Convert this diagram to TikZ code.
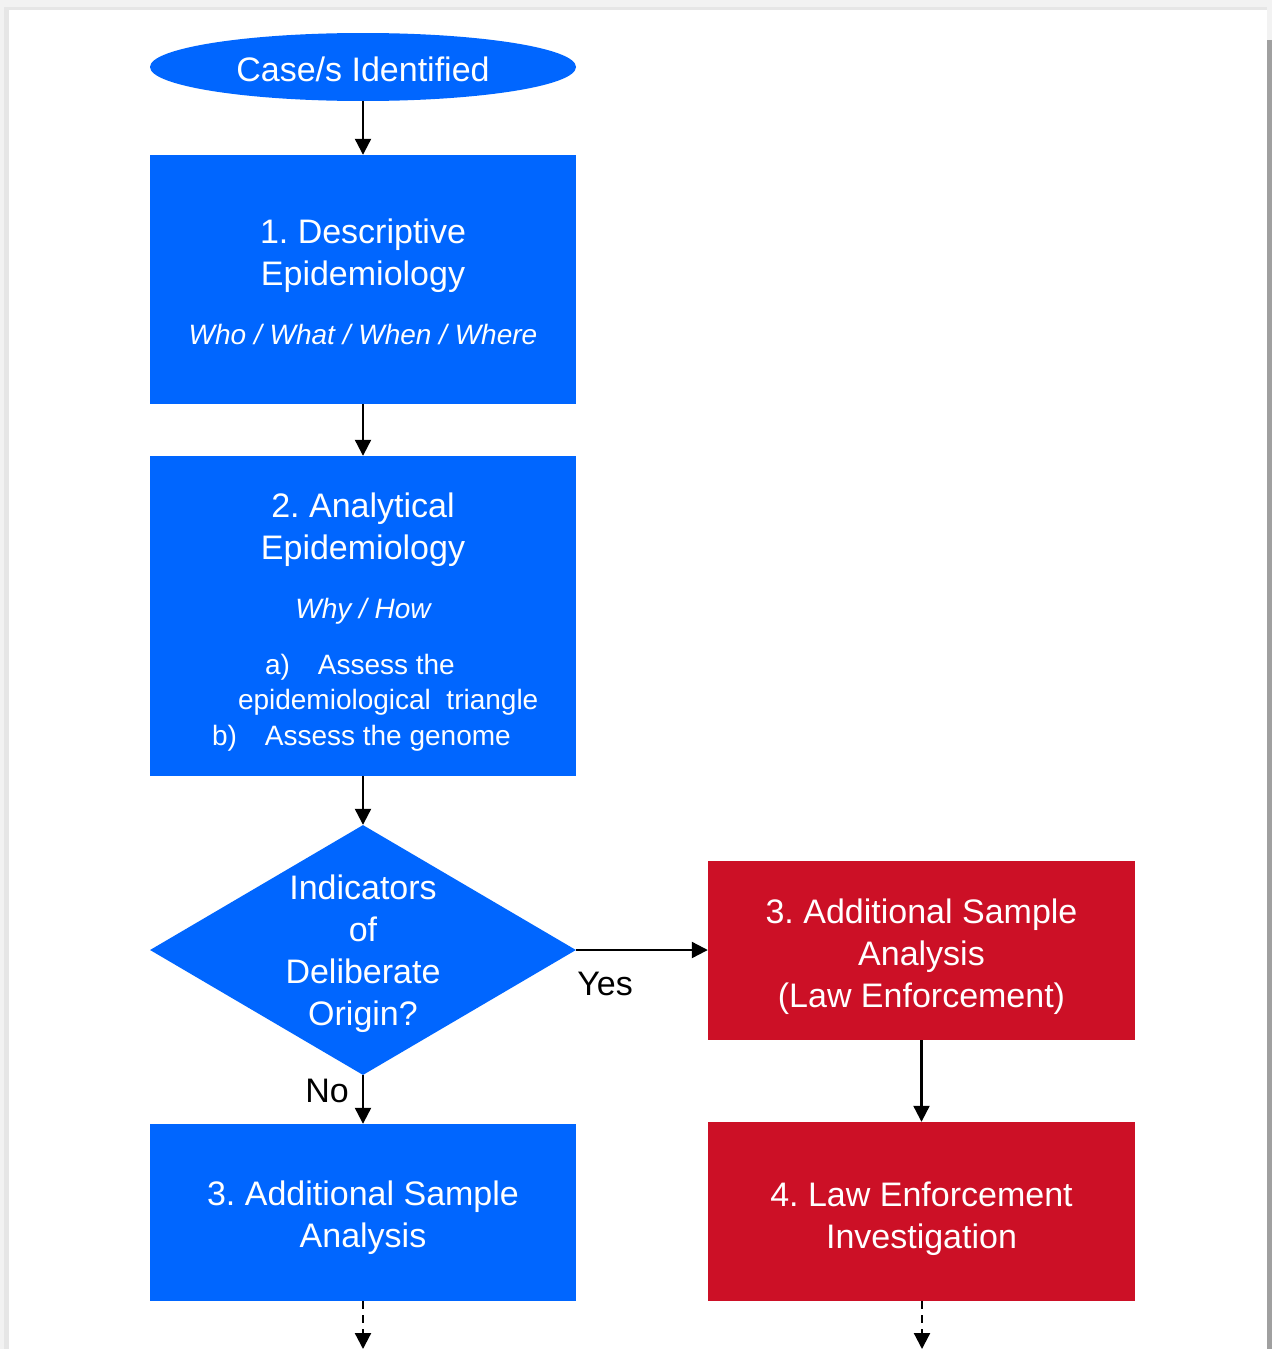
\documentclass[tikz,border=0pt]{standalone}
\usepackage{fontspec}
\setmainfont{Liberation Sans}
\frenchspacing
\usetikzlibrary{shapes.geometric, arrows.meta}
\definecolor{fcBlue}{RGB}{0,102,255}
\definecolor{fcRed}{RGB}{204,16,38}
\definecolor{fcFrame}{RGB}{242,242,242}
\definecolor{fcEdge}{RGB}{230,230,230}
\definecolor{fcShadow}{RGB}{160,160,160}
\newcommand{\padtop}[1]{\rule{0pt}{#1pt}}

\tikzset{
  blockbox/.style={rectangle, fill=fcBlue, text=white, minimum width=426pt, inner sep=0pt, align=center, font=\fontsize{34}{42}\selectfont},
  lawbox/.style={blockbox, fill=fcRed, minimum width=427pt},
  flowarrow/.style={-{Triangle[length=16pt,width=16pt]}, line width=2.2pt},
  edgelabel/.style={font=\fontsize{34}{42}\selectfont, inner sep=0pt},
}

\begin{document}
\begin{tikzpicture}[x=1pt, y=-1pt]
    \useasboundingbox (0,0) rectangle (1272,1349);
    \fill[fcFrame] (0,0) rectangle (1272,1349);
    \fill[fcEdge] (4,7) rectangle (1267,1349);
    \fill[white] (9,10) rectangle (1267,1349);
    \fill[fcShadow] (1267,40) rectangle (1272,1349);

    \node[ellipse, fill=fcBlue, text=white, minimum width=426pt, minimum height=68pt, inner sep=0pt, font=\fontsize{34}{42}\selectfont] (cases) at (363,67) {\padtop{28.5}Case/s Identified};

    \node[blockbox, minimum height=249pt] (descriptive) at (363,279.5) {\padtop{28.5}1. Descriptive\\Epidemiology\\[17pt]{\itshape\fontsize{28}{42}\selectfont Who / What / When / Where}};

    \node[blockbox, minimum height=320pt] (analytical) at (363,616) {\padtop{36.5}2. Analytical\\Epidemiology\\[17pt]{\itshape\fontsize{28}{42}\selectfont Why / How}\\[14pt]\hspace*{38pt}\parbox[t]{340pt}{\fontsize{28}{35.5}\selectfont\hspace*{53pt}a)\hspace{28pt}Assess the\\\hspace*{26pt}epidemiological\ \ triangle\\b)\hspace{28pt}Assess the genome}};

    \node[diamond, fill=fcBlue, minimum width=426pt, minimum height=250pt, aspect=1.7, inner sep=0pt] (origin) at (363,950) {};
    \node[text=white, align=center, inner sep=0pt, font=\fontsize{34}{42}\selectfont] (origintext) at (363,954) {Indicators\\of\\Deliberate\\Origin?};

    \node[lawbox, minimum height=179pt] (lawsample) at (921.5,950.5) {\padtop{36.5}3. Additional Sample\\Analysis\\(Law Enforcement)};
    \node[lawbox, minimum height=179pt] (lawinvest) at (921.5,1211.5) {\padtop{38.5}4. Law Enforcement\\Investigation};
    \node[blockbox, minimum height=177pt] (sample) at (363,1212.5) {\padtop{34.5}3. Additional Sample\\Analysis};

    \coordinate (sampleend) at (363,1349);
    \coordinate (investend) at (922,1349);

    \draw[flowarrow] (cases) -- (descriptive);
    \draw[flowarrow] (descriptive) -- (analytical);
    \draw[flowarrow] (analytical) -- (origin);
    \draw[flowarrow] (origin.east) -- (origin.east -| lawsample.west);
    \draw[flowarrow] (lawsample) -- (lawinvest);
    \draw[flowarrow] (origin.south) -- (sample.north);
    \draw[flowarrow, dash pattern=on 8pt off 6pt] (sample.south) -- (sampleend);
    \draw[flowarrow, dash pattern=on 8pt off 6pt] (lawinvest.south -| investend) -- (investend);

    \node[edgelabel] (yes) at (605,984) {Yes};
    \node[edgelabel] (no) at (327,1091) {No};
  \end{tikzpicture}
\end{document}
